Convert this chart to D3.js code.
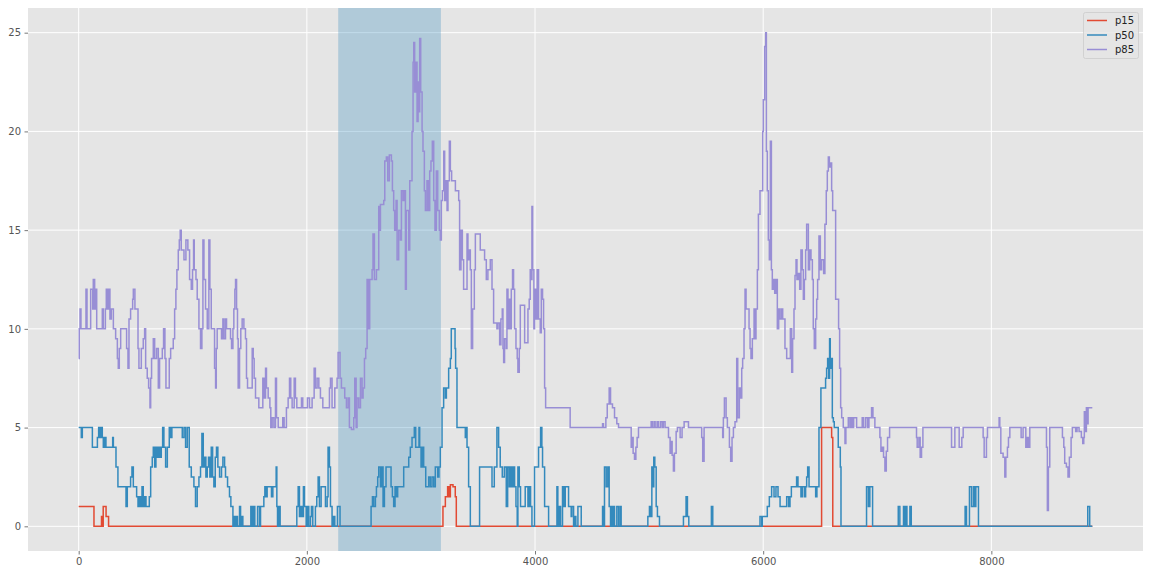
<!DOCTYPE html>
<html><head><meta charset="utf-8">
<script src="https://cdn.jsdelivr.net/npm/d3@7"></script>
<style>html,body{margin:0;padding:0;background:#fff;}svg{display:block;}</style>
</head><body>
<svg id="chart" width="1150" height="575"></svg>
<script>
const seriesNames = ["p15", "p50", "p85"];
const seriesColors = ["#E24A33", "#348ABD", "#988ED5"];
const xTicks = [0, 2000, 4000, 6000, 8000];
const yTicks = [0, 5, 10, 15, 20, 25];
const spanRange = [2275, 3175];

const p15 = [[0,1],[134,0],[200,0.5],[210,0],[215,1],[240,0.5],[262,0],[3193,1],[3214,1.5],[3234,2],[3246,1.5],[3258,2.1],[3281,2],[3301,1.5],[3310,0],[6512,5],[6600,4.5],[6610,0],[8885,0]];

const p50 = [[0,5],[23,4.5],[32,5],[120,4],[164,4.5],[175,5],[187,4.5],[199,5],[207,4.5],[216,4],[228,4.5],[239,4],[298,4.5],[304,4],[327,3],[344,2],[415,1],[426,2],[455,2.5],[467,3],[479,2],[508,1.5],[520,1],[531,1.5],[543,1],[555,2],[566,1],[578,1.5],[590,1],[619,1.5],[631,3],[645,3.5],[654,4],[666,3],[677,4],[689,3.5],[701,4],[712,3.5],[724,4],[736,5],[747,4],[762,3],[777,4],[794,5],[806,4.5],[817,5],[908,4.5],[923,5],[937,4],[952,5],[969,3],[987,2.5],[1010,2],[1024,1],[1039,2],[1054,2.5],[1068,3],[1080,4.7],[1092,3],[1103,3.5],[1115,2.5],[1127,3],[1138,3.5],[1150,2.5],[1162,4],[1174,2.5],[1185,2],[1197,3.5],[1208,4],[1220,3],[1235,2.5],[1252,3],[1264,3.5],[1279,3],[1287,2.5],[1305,2],[1322,1.5],[1334,1],[1352,0],[1360,0.5],[1369,0],[1381,0.5],[1392,0],[1410,1],[1419,0],[1427,0.5],[1439,0],[1509,1],[1521,0],[1533,1],[1544,0],[1568,1],[1585,0],[1594,1],[1623,1.5],[1632,2],[1643,1.5],[1652,2],[1690,1.5],[1702,2],[1731,3],[1737,1],[1743,0],[1754,1],[1766,0],[1912,1],[1924,2],[1935,0.5],[1947,1],[1959,0.5],[1970,2],[1979,1],[1994,0],[2005,1],[2017,0],[2032,0.5],[2040,1],[2052,0],[2075,1],[2087,1.5],[2099,2.5],[2110,1],[2125,2],[2163,1],[2178,1.5],[2186,4],[2198,3],[2207,1],[2221,0],[2233,0.5],[2245,0],[2268,1],[2291,0],[2563,1],[2575,1.5],[2586,1],[2601,1.5],[2610,2],[2621,2.5],[2630,3],[2645,2],[2656,3],[2668,1],[2680,2],[2694,3],[2718,3],[2738,2],[2750,1.5],[2761,1],[2773,2],[2785,1.5],[2796,2],[2849,3],[2893,3.5],[2907,4],[2922,4.5],[2942,5],[2954,4],[2983,5],[2989,4],[3001,3],[3012,4],[3024,3],[3042,2],[3068,2.5],[3082,2],[3097,2.5],[3112,2],[3126,3],[3147,2.5],[3158,3],[3170,4],[3185,6],[3199,7],[3214,6.5],[3223,7],[3243,8],[3258,8.5],[3266,10],[3293,10],[3299,9],[3304,8],[3316,5],[3389,4.5],[3395,5],[3404,4],[3418,2],[3433,0],[3514,3],[3623,2],[3643,3],[3666,5],[3681,4],[3695,3],[3713,2.5],[3731,3],[3748,1],[3760,3],[3774,2],[3786,3],[3798,2],[3809,3],[3821,2],[3833,1],[3844,0],[3850,3],[3862,2],[3873,1],[3914,2],[3938,1],[3949,2],[3961,1],[3973,0],[3996,3],[4031,4],[4049,5],[4060,4],[4066,3],[4084,1],[4119,0],[4192,2],[4200,0],[4212,1],[4224,0],[4241,2],[4253,1],[4265,2],[4294,1],[4317,0.5],[4323,1],[4338,0],[4346,0.5],[4358,0],[4376,1],[4405,0],[4592,1],[4603,0],[4609,3],[4624,2],[4638,3],[4650,1],[4662,0],[4668,1],[4679,0],[4688,1],[4697,0],[4717,1],[4732,0],[4746,1],[4755,0],[4989,0.5],[5003,1],[5012,0.5],[5024,3],[5032,2],[5041,3.5],[5050,3],[5062,1],[5073,0.5],[5091,0],[5301,0.5],[5324,1.5],[5336,0.5],[5348,0],[5546,1],[5558,0],[5972,0.5],[5987,0],[5993,0.5],[6036,1],[6054,1.5],[6074,2],[6095,1.5],[6112,2],[6130,1.5],[6148,1],[6206,1.5],[6223,1],[6235,1.5],[6247,2],[6293,2.5],[6305,2],[6331,1.5],[6343,2],[6361,1.5],[6372,2],[6381,2.5],[6390,3],[6402,2],[6460,1.5],[6471,2],[6489,5],[6506,7],[6547,7.5],[6556,8],[6565,8.5],[6574,7.5],[6582,9.5],[6588,8],[6594,8.5],[6606,5.5],[6615,5.3],[6623,5],[6658,4],[6676,3],[6682,0],[6906,2],[6922,1],[6935,2],[6959,0],[7184,1],[7198,0],[7230,1],[7242,0],[7248,1],[7260,0],[7286,1],[7298,0],[7770,1],[7782,0],[7808,2],[7826,1],[7843,2],[7852,1],[7864,2],[7887,0],[8845,1],[8862,0],[8885,0]];

const p85 = [[0,8.5],[5,10],[12,11],[20,10],[64,12],[73,10],[105,12],[123,11],[128,12.5],[140,11],[149,12],[158,10],[207,11],[216,10],[234,11],[242,12],[254,11],[266,12],[274,10.5],[286,11],[304,10],[324,9.5],[339,8.5],[347,8],[356,9],[368,10],[420,9],[432,8],[441,10.5],[455,11],[473,11.5],[479,12],[493,11],[520,9],[528,8],[549,9],[566,9.5],[578,10],[587,8],[601,7.5],[613,7],[625,6],[631,7.5],[639,8.5],[654,9.5],[666,8.5],[683,9],[698,7],[709,8.5],[733,9],[744,10],[756,8.5],[765,7],[794,8.5],[806,9],[829,9.5],[841,11],[852,12],[861,13],[873,14],[882,14.5],[890,15],[899,14],[923,13.5],[940,14.5],[957,14],[972,12.5],[987,12],[998,13],[1007,14.5],[1013,13],[1028,12.5],[1039,11.5],[1054,10],[1068,9],[1080,10],[1089,14.5],[1098,12.5],[1112,11],[1127,10],[1141,14.5],[1150,12],[1162,10],[1191,8],[1200,7],[1206,9],[1214,10],[1252,9.5],[1264,10.5],[1273,9.5],[1287,10.5],[1296,10],[1331,9.5],[1340,9],[1352,10],[1360,11],[1369,12],[1375,12.5],[1384,11],[1392,9.5],[1398,7],[1410,9],[1421,10],[1433,10.5],[1448,10],[1462,9.5],[1471,7.5],[1480,7],[1521,9],[1530,8.5],[1538,7.5],[1550,6.5],[1579,6],[1614,7.5],[1626,6.5],[1638,8],[1646,7],[1661,6.5],[1676,6],[1684,5],[1696,5.5],[1711,5],[1725,7.5],[1734,5.5],[1749,5],[1789,5.5],[1801,5],[1821,6],[1836,6.5],[1848,7.5],[1859,6.5],[1871,6],[1889,7.5],[1900,6.5],[1912,6],[1953,6.5],[1964,6],[2005,6.5],[2023,6],[2046,6.5],[2064,8],[2075,7],[2090,7.5],[2105,7],[2119,6.5],[2140,6],[2198,7],[2207,7.5],[2221,6],[2245,7],[2265,7.5],[2274,8.8],[2291,7.5],[2303,7],[2332,6.5],[2347,6],[2362,6.5],[2373,5],[2391,4.9],[2411,5.5],[2420,7.5],[2432,5],[2440,6.5],[2455,6],[2470,7.5],[2484,6.5],[2493,7],[2505,8.5],[2516,9],[2528,12.5],[2540,10],[2551,12.5],[2572,13],[2580,14.8],[2592,12.5],[2610,13],[2630,16.2],[2639,15],[2645,16.3],[2674,16.5],[2683,18.5],[2697,18.7],[2709,17.5],[2723,18.8],[2741,18.5],[2750,17],[2761,16],[2770,15],[2782,16.5],[2791,13.5],[2805,15],[2820,14.5],[2829,17],[2843,16.5],[2852,17],[2864,12],[2872,16],[2893,14],[2902,17.5],[2922,20],[2931,23.5],[2937,24.5],[2945,22],[2954,23.5],[2966,20.5],[2975,22.5],[2983,21],[2989,24.7],[2998,22],[3010,20],[3018,19],[3030,17],[3039,16],[3053,17.5],[3065,16],[3077,18],[3088,18.5],[3100,19.5],[3112,16.5],[3123,15],[3135,18],[3147,16],[3161,15],[3170,14.5],[3179,16.5],[3188,17],[3200,19],[3208,16.5],[3217,17.5],[3229,16],[3237,17.5],[3249,19.5],[3258,18],[3269,17.5],[3302,17],[3331,16.5],[3339,13],[3351,15],[3363,13.5],[3374,12],[3404,14.8],[3412,13.5],[3424,14],[3433,13],[3442,9],[3453,11],[3468,13],[3477,14.8],[3520,14],[3558,13.5],[3573,12.5],[3587,13],[3608,13.5],[3623,12],[3637,10.3],[3666,10],[3675,10.3],[3690,9.2],[3701,10.5],[3713,11],[3719,9],[3725,8.3],[3733,9.5],[3748,9],[3754,12],[3763,10],[3774,11.5],[3783,10],[3792,12],[3803,13],[3812,12],[3821,10],[3833,9],[3844,8.5],[3850,7.8],[3862,9],[3871,11.2],[3909,9.3],[3938,11],[3949,11.5],[3958,13],[3967,12.5],[3973,16.2],[3979,13],[3990,10],[3996,12],[4008,10.5],[4019,13],[4031,10.5],[4046,9.8],[4055,12],[4066,11.5],[4075,10],[4084,7],[4093,6],[4308,5],[4592,5.2],[4600,5],[4621,5.5],[4633,6.2],[4650,7],[4662,6.2],[4679,6],[4697,5.5],[4717,5.2],[4732,5],[4843,4],[4851,4.5],[4860,3.7],[4872,3.4],[4884,4],[4895,4.5],[4907,5],[5018,5.3],[5029,5],[5044,5.3],[5053,5],[5070,5.3],[5082,5],[5100,5.3],[5115,5],[5125,5.3],[5140,5],[5170,4.5],[5184,3.7],[5193,4.3],[5202,3.6],[5213,2.8],[5222,3.7],[5237,4.8],[5248,5],[5272,4.5],[5289,5],[5307,5.3],[5345,5],[5461,4.5],[5470,3.3],[5482,5],[5645,4.5],[5651,5.5],[5660,6.5],[5675,5.5],[5686,5],[5704,4],[5715,3.3],[5727,4.5],[5739,5],[5753,5.3],[5768,8.5],[5777,5.5],[5791,7],[5803,6.5],[5812,8],[5820,8.5],[5832,10],[5841,12],[5850,11],[5876,10],[5885,9],[5893,8.5],[5905,9.5],[5920,11],[5928,9.5],[5937,11],[5949,13],[5958,15.8],[5972,17],[5996,20],[6001,21.6],[6013,24.3],[6022,25],[6028,19],[6036,17],[6045,14.5],[6054,13.5],[6063,19.5],[6072,13],[6080,12],[6089,12.5],[6101,11.8],[6112,12.5],[6124,10],[6136,11],[6148,10.5],[6162,11],[6171,10.5],[6191,9],[6206,8.5],[6238,10],[6250,7.8],[6258,9.5],[6270,11],[6279,12.7],[6288,13.5],[6296,12.5],[6308,12.8],[6320,12],[6331,14],[6343,13],[6352,11.5],[6361,12.5],[6372,14],[6381,15.3],[6396,13],[6407,14],[6419,13.5],[6431,12.5],[6439,10],[6448,9],[6460,10.5],[6469,11.5],[6477,12.5],[6489,14.7],[6501,13],[6512,13.5],[6530,12.8],[6541,15.3],[6553,17],[6562,18],[6571,18.7],[6580,18.2],[6588,18.4],[6600,17],[6609,16],[6635,11.5],[6661,10],[6670,8],[6679,6],[6688,5.5],[6702,5],[6717,4.2],[6725,5],[6746,5.5],[6760,5],[6769,5.5],[6781,5],[6793,5.5],[6819,5],[6868,5.5],[6880,5],[6898,5.5],[6915,5],[6927,5.5],[6950,6],[6962,5.5],[6979,5],[7023,4.5],[7032,3.8],[7044,4],[7055,3.5],[7067,2.8],[7079,3.8],[7090,4.5],[7108,5],[7344,4.5],[7350,4],[7365,4.5],[7376,3.5],[7388,4],[7400,5],[7651,4],[7680,5],[7718,4],[7741,4.5],[7753,5],[7928,4.5],[7937,3.5],[7957,4.5],[7966,5],[8068,5.5],[8074,5],[8083,3.7],[8103,3.5],[8118,2.5],[8127,3.5],[8141,4],[8150,4.5],[8162,5],[8261,4.5],[8278,5],[8302,4],[8313,4.5],[8325,4],[8337,5],[8483,4],[8491,0.8],[8500,3],[8512,5],[8623,4.5],[8635,4],[8643,3.2],[8658,3],[8672,2.5],[8684,3.5],[8699,4.5],[8710,5],[8739,4.8],[8751,5],[8769,4.8],[8789,4.5],[8801,4.2],[8810,4.5],[8815,5.8],[8824,4.8],[8833,6],[8842,5.2],[8848,6],[8885,6]];

const seriesData = [p15, p50, p85];

const W = 1150, H = 575;
const plot = {left: 28, right: 1143, top: 8, bottom: 551};
const svg = d3.select("#chart");
const font = "'DejaVu Sans', sans-serif";

const allPts = seriesData.flat();
const xExt = d3.extent(allPts, d => d[0]);
const yExt = d3.extent(allPts, d => d[1]);
const xPad = (xExt[1] - xExt[0]) * 0.05, yPad = (yExt[1] - yExt[0]) * 0.05;
const x = d3.scaleLinear().domain([xExt[0] - xPad, xExt[1] + xPad]).range([plot.left, plot.right]);
const y = d3.scaleLinear().domain([yExt[0] - yPad, yExt[1] + yPad]).range([plot.bottom, plot.top]);

svg.append("rect").attr("x", plot.left).attr("y", plot.top)
  .attr("width", plot.right - plot.left).attr("height", plot.bottom - plot.top).attr("fill", "#E5E5E5");

// grid
svg.append("g").selectAll("line").data(xTicks).join("line")
  .attr("x1", d => x(d)).attr("x2", d => x(d)).attr("y1", plot.top).attr("y2", plot.bottom)
  .attr("stroke", "#fff").attr("stroke-width", 1);
svg.append("g").selectAll("line").data(yTicks).join("line")
  .attr("y1", d => y(d)).attr("y2", d => y(d)).attr("x1", plot.left).attr("x2", plot.right)
  .attr("stroke", "#fff").attr("stroke-width", 1);

// span
svg.append("rect").attr("x", x(spanRange[0])).attr("y", plot.top)
  .attr("width", x(spanRange[1]) - x(spanRange[0])).attr("height", plot.bottom - plot.top)
  .attr("fill", "#348ABD").attr("fill-opacity", 0.3);

// axes
const xAxis = svg.append("g").attr("transform", `translate(0,${plot.bottom})`)
  .call(d3.axisBottom(x).tickValues(xTicks).tickFormat(d3.format("d")).tickSize(3.5).tickPadding(3.5));
const yAxis = svg.append("g").attr("transform", `translate(${plot.left},0)`)
  .call(d3.axisLeft(y).tickValues(yTicks).tickFormat(d3.format("d")).tickSize(3.5).tickPadding(3.5));
[xAxis, yAxis].forEach(a => {
  a.select(".domain").remove();
  a.selectAll(".tick line").attr("stroke", "#555").attr("stroke-width", 0.8);
  a.selectAll(".tick text").attr("fill", "#555").style("font-family", font).style("font-size", "10px");
});

// lines
const clip = svg.append("clipPath").attr("id", "clip").append("rect")
  .attr("x", plot.left).attr("y", plot.top).attr("width", plot.right - plot.left).attr("height", plot.bottom - plot.top);
const lineGen = d3.line().x(d => x(d[0])).y(d => y(d[1])).curve(d3.curveStepAfter);
const lg = svg.append("g").attr("clip-path", "url(#clip)");
seriesData.forEach((s, i) => {
  lg.append("path").datum(s).attr("d", lineGen).attr("fill", "none")
    .attr("stroke", seriesColors[i]).attr("stroke-width", 1.5).attr("stroke-linejoin", "miter");
});

// legend
const leg = svg.append("g");
leg.append("rect").attr("x", 1083.5).attr("y", 12.5).attr("width", 55).attr("height", 46).attr("rx", 2)
  .attr("fill", "#E5E5E5").attr("fill-opacity", 0.8).attr("stroke", "#cccccc").attr("stroke-width", 0.8);
seriesNames.forEach((n, i) => {
  const yy = 20.5 + i * 14.5;
  leg.append("line").attr("x1", 1087).attr("x2", 1107).attr("y1", yy).attr("y2", yy)
    .attr("stroke", seriesColors[i]).attr("stroke-width", 1.5);
  leg.append("text").attr("x", 1115).attr("y", yy).attr("dy", "0.35em").text(n)
    .style("font-family", font).style("font-size", "10px").attr("fill", "#222");
});
</script>
</body></html>
